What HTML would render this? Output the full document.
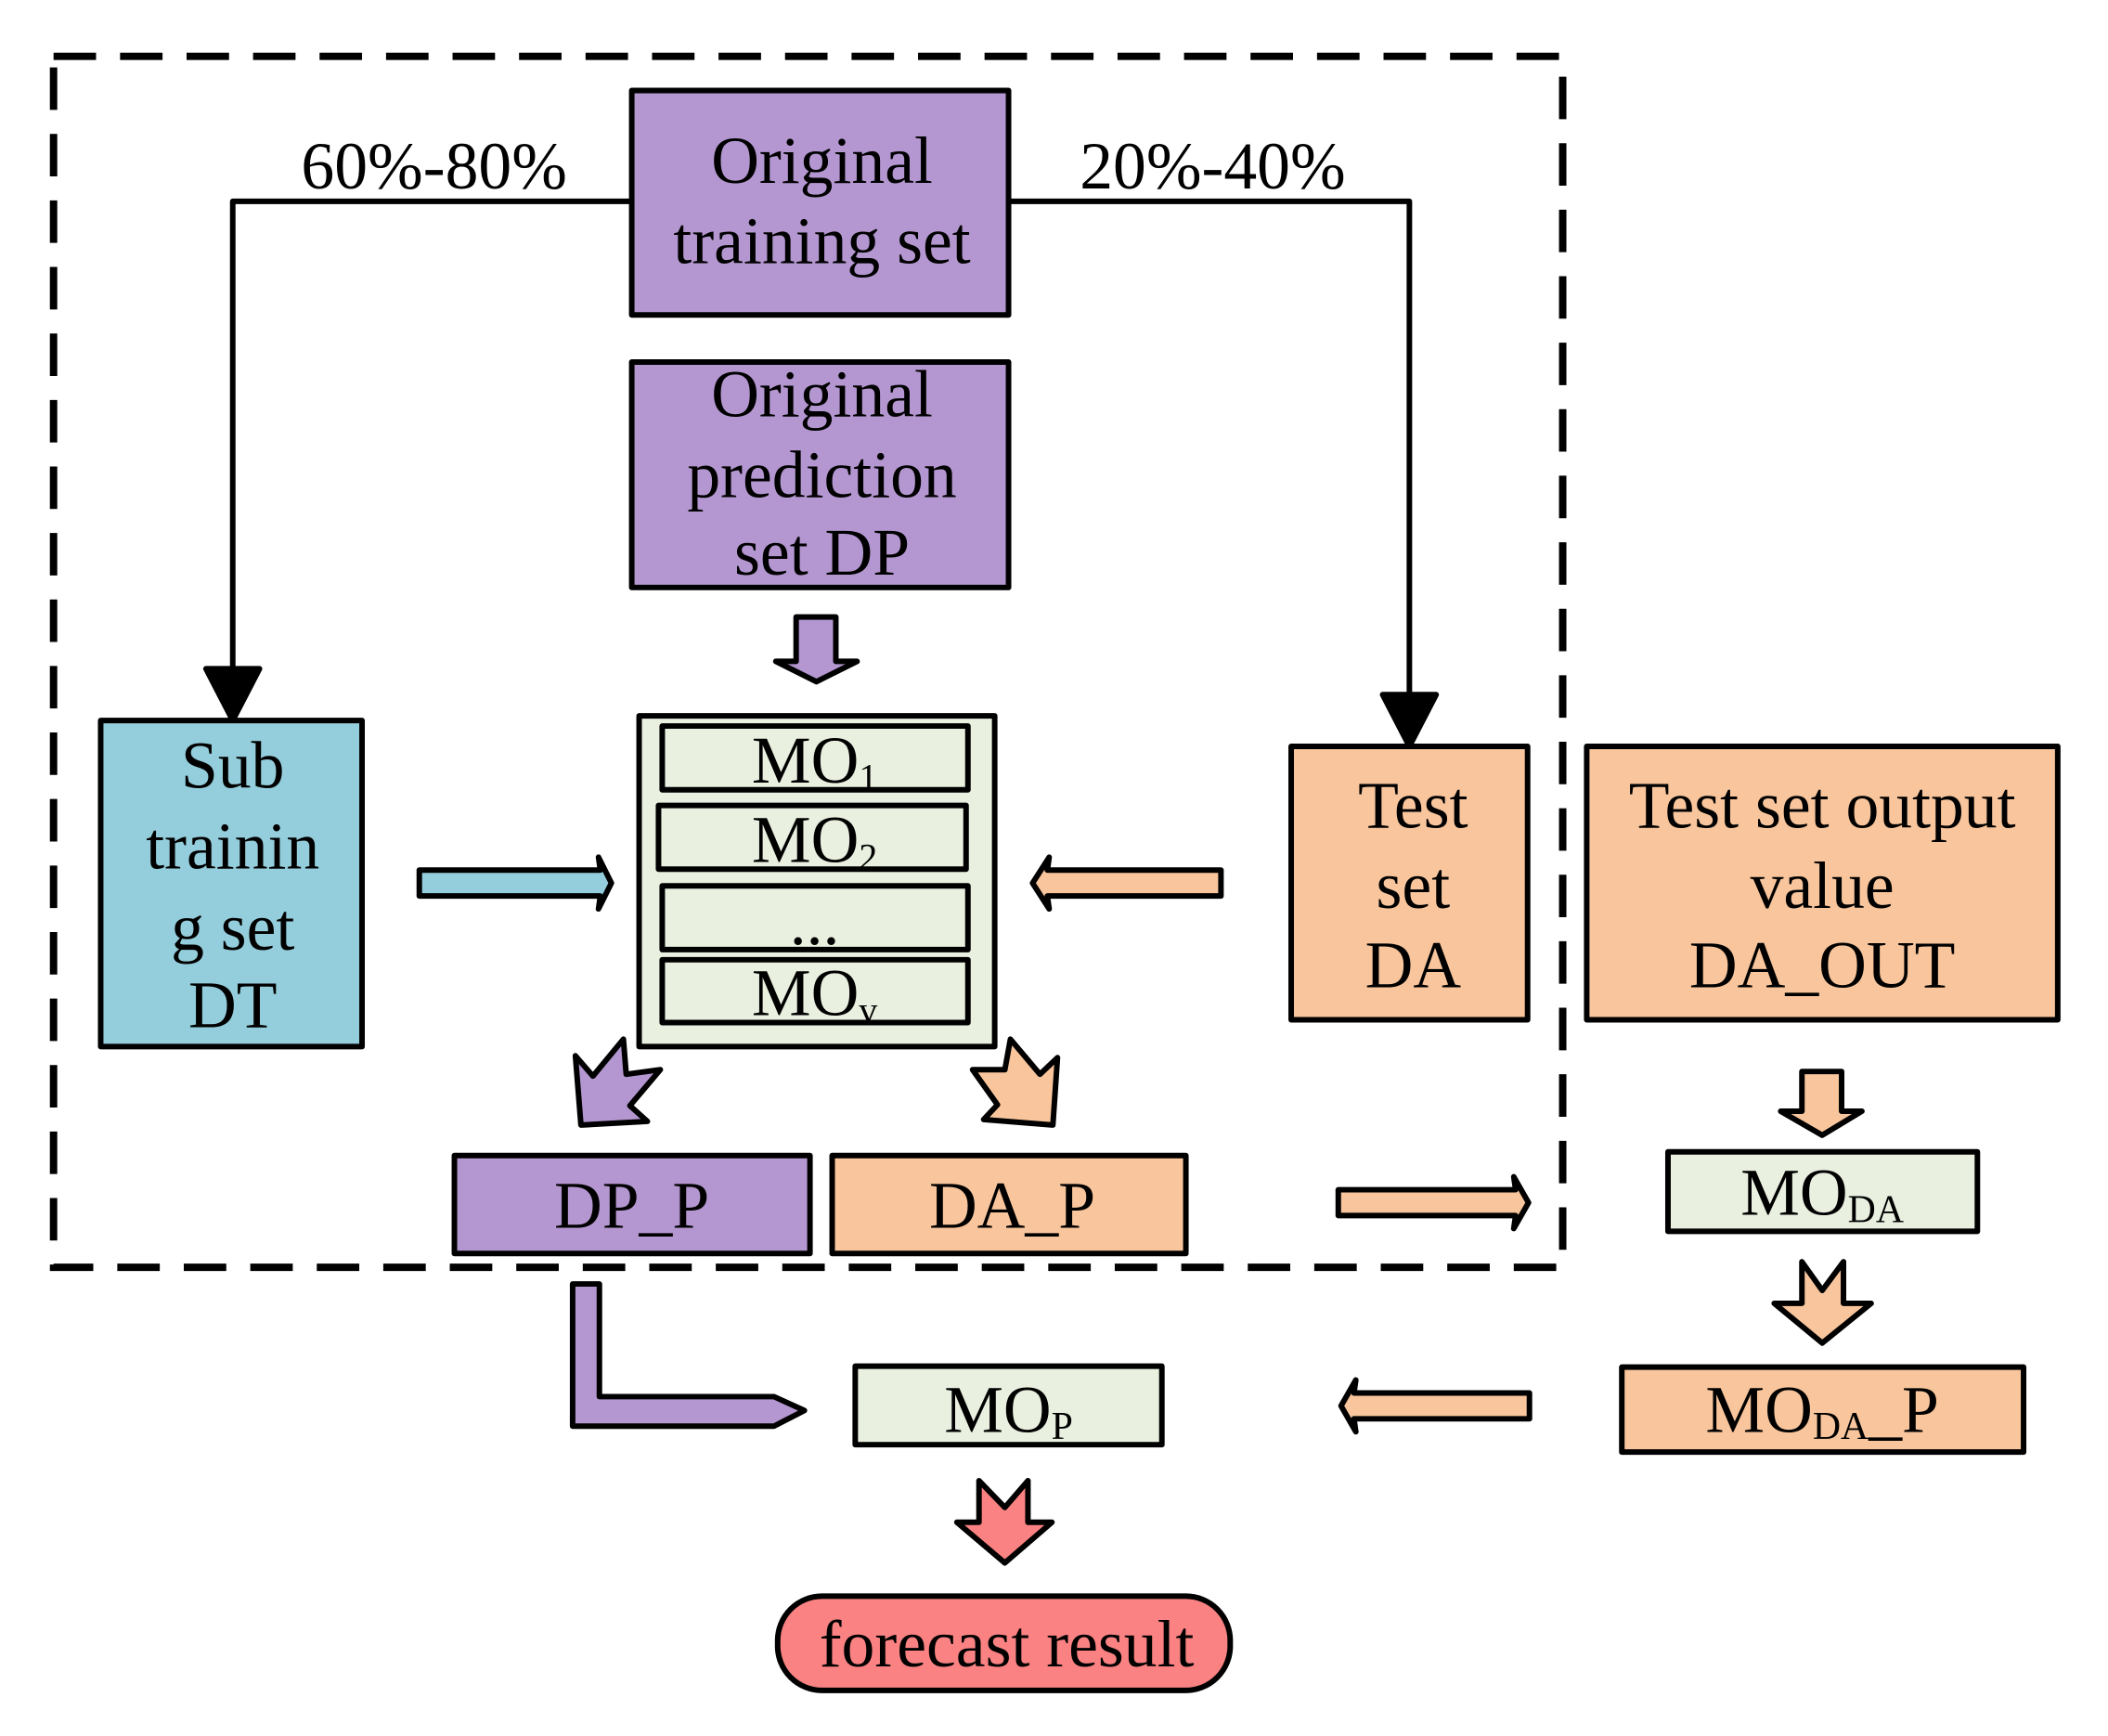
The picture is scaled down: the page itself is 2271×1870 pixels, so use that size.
<!DOCTYPE html>
<html><head><meta charset="utf-8"><style>html,body{margin:0;padding:0;background:#fff}svg{display:block}</style></head>
<body>
<svg width="2271" height="1870" viewBox="0 0 2271 1870" xmlns="http://www.w3.org/2000/svg" font-family="'Liberation Serif', serif" font-size="72" text-anchor="middle">
<g transform="scale(0.995)">
<g stroke="#000" stroke-width="6" stroke-linejoin="round">
<rect x="58" y="61" width="1634" height="1311" fill="none" stroke-width="8" stroke-dasharray="46 26" stroke-linejoin="miter"/>
<polyline points="684,218 252,218 252,730" fill="none"/>
<polygon points="223,724 281,724 252,780" fill="#000"/>
<polyline points="1092,218 1526,218 1526,758" fill="none"/>
<polygon points="1497,752 1555,752 1526,808" fill="#000"/>
<rect x="684" y="98" width="408" height="243" fill="#b497d0"/>
<rect x="684" y="392" width="408" height="244" fill="#b497d0"/>
<rect x="109" y="780" width="283" height="353" fill="#94cddb"/>
<rect x="692" y="775" width="385" height="358" fill="#e9f0e0"/>
<rect x="717" y="786" width="331" height="69" fill="#e9f0e0"/>
<rect x="713" y="872" width="333" height="69" fill="#e9f0e0"/>
<rect x="717" y="959" width="331" height="69" fill="#e9f0e0"/>
<rect x="717" y="1039" width="331" height="68" fill="#e9f0e0"/>
<rect x="1398" y="808" width="256" height="296" fill="#f8c59c"/>
<rect x="1718" y="808" width="510" height="296" fill="#f8c59c"/>
<rect x="492" y="1251" width="385" height="106" fill="#b497d0"/>
<rect x="901" y="1251" width="383" height="106" fill="#f8c59c"/>
<rect x="1806" y="1247" width="335" height="86" fill="#e9f0e0"/>
<rect x="1756" y="1480" width="435" height="92" fill="#f8c59c"/>
<rect x="926" y="1479" width="332" height="85" fill="#e9f0e0"/>
<rect x="842" y="1728" width="490" height="102" rx="48" fill="#fa8282"/>
<polygon points="454,942 650,942 648,928 662,956 648,984 650,970 454,970" fill="#94cddb"/>
<polygon points="1322,942 1134,942 1136,928 1118,956 1136,984 1134,970 1322,970" fill="#f8c59c"/>
<polygon points="862,668 905,668 905,716 928,716 884,738 840,716 862,716" fill="#b497d0"/>
<polygon points="623,1143 642,1165 675,1125 678,1163 715,1158 682,1197 701,1214 629,1218" fill="#b497d0"/>
<polygon points="1053,1158 1080,1196 1065,1212 1140,1218 1145,1145 1126,1163 1094,1125 1088,1158" fill="#f8c59c"/>
<polygon points="1449,1288 1641,1288 1639,1274 1655,1302 1639,1330 1641,1316 1449,1316" fill="#f8c59c"/>
<polygon points="1951,1160 1994,1160 1994,1203 2016,1203 1973,1229 1928,1203 1951,1203" fill="#f8c59c"/>
<polygon points="1951,1366 1973,1397 1996,1366 1996,1411 2026,1411 1973,1454 1921,1411 1951,1411" fill="#f8c59c"/>
<polygon points="1656,1508 1466,1508 1468,1494 1452,1522 1468,1550 1466,1536 1656,1536" fill="#f8c59c"/>
<polygon points="620,1390 649,1390 649,1512 838,1512 871,1527 838,1544 620,1544" fill="#b497d0"/>
<polygon points="1060,1603 1088,1632 1113,1603 1113,1648 1139,1648 1088,1692 1036,1648 1060,1648" fill="#fa8282"/>
</g>
<g fill="#000">
<text x="470" y="204">60%-80%</text>
<text x="1313" y="204">20%-40%</text>
<text x="890" y="198">Original</text>
<text x="890" y="285">training set</text>
<text x="890" y="451">Original</text>
<text x="890" y="538">prediction</text>
<text x="890" y="622">set DP</text>
<text x="252" y="853">Sub</text>
<text x="252" y="940">trainin</text>
<text x="252" y="1028">g set</text>
<text x="252" y="1112">DT</text>
<text x="882" y="847">MO<tspan font-size="40" dy="8">1</tspan></text>
<text x="882" y="933">MO<tspan font-size="40" dy="8">2</tspan></text>
<text x="882" y="1022">...</text>
<text x="882" y="1099">MO<tspan font-size="40" dy="8">v</tspan></text>
<text x="1530" y="896">Test</text>
<text x="1530" y="983">set</text>
<text x="1530" y="1069">DA</text>
<text x="1973" y="896">Test set output</text>
<text x="1973" y="983">value</text>
<text x="1973" y="1069">DA_OUT</text>
<text x="684" y="1329">DP_P</text>
<text x="1096" y="1329">DA_P</text>
<text x="1973" y="1315">MO<tspan font-size="42" dy="8">DA</tspan></text>
<text x="1973" y="1550">MO<tspan font-size="42" dy="8">DA</tspan><tspan dy="-8">_P</tspan></text>
<text x="1092" y="1550">MO<tspan font-size="42" dy="8">P</tspan></text>
<text x="1090" y="1804">forecast result</text>
</g>
</g>
</svg>
</body></html>
